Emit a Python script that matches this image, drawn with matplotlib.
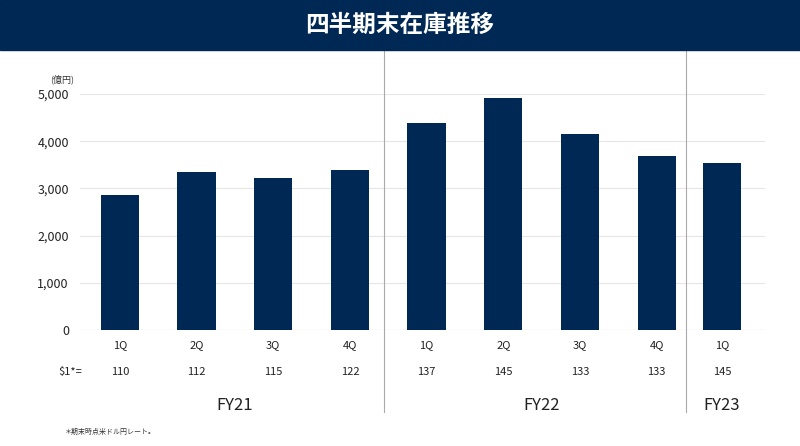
import matplotlib.pyplot as plt
from matplotlib.patches import Rectangle

plt.rcParams['font.family'] = 'Noto Sans CJK JP'

quarters = ['1Q', '2Q', '3Q', '4Q', '1Q', '2Q', '3Q', '4Q', '1Q']
inventory = [2850, 3350, 3230, 3400, 4380, 4920, 4150, 3680, 3540]
rates = ['110', '112', '115', '122', '137', '145', '133', '133', '145']
fiscal_years = ['FY21', 'FY22', 'FY23']

navy = '#002855'
pos = [0, 1, 2, 3, 4, 5, 6, 7, 7.85]
fy_pos = [1.5, 5.5, 7.85]
seps = [3.45, 7.38]

fig = plt.figure(figsize=(8, 4.46), dpi=100)
fig.patches.append(Rectangle((0, 1 - 50 / 446), 1, 50 / 446, transform=fig.transFigure,
                             color=navy, zorder=0))
fig.text(0.5, 1 - 25 / 446, '四半期末在庫推移', color='white', fontsize=17,
         fontweight='bold', ha='center', va='center')

ax = fig.add_axes([0.1, 1 - 330 / 446, 0.856, (330 - 94) / 446])
ax.bar(pos, inventory, width=0.5, color=navy, zorder=2)
ax.set_xlim(-0.52, 8.41)
ax.set_ylim(0, 5000)
ax.set_yticks(range(0, 5001, 1000))
ax.set_yticklabels([f'{v:,}' for v in range(0, 5001, 1000)], fontsize=9, color='#222222')
ax.grid(axis='y', color='#e6e6e6', lw=0.8, zorder=0)
ax.set_xticks([])
ax.tick_params(axis='y', length=0, pad=8)
for s in ax.spines.values():
    s.set_visible(False)
ax.axhline(0, color='#cccccc', lw=0.8, zorder=1)
ax.text(-0.6, 5300, '(億円)', fontsize=6.5, ha='right', va='center', color='#333333')

tr = ax.get_xaxis_transform()
for x, q, r in zip(pos, quarters, rates):
    ax.text(x, -15 / 236, q, transform=tr, ha='center', va='center', fontsize=8, color='#222222')
    ax.text(x, -42 / 236, r, transform=tr, ha='center', va='center', fontsize=8, color='#222222')
ax.text(-0.65, -42 / 236, '$1*=', transform=tr, ha='center', va='center', fontsize=8, color='#222222')
for x, fy in zip(fy_pos, fiscal_years):
    ax.text(x, -75 / 236, fy, transform=tr, ha='center', va='center', fontsize=12, color='#222222')
for s in seps:
    ax.plot([s, s], [-82 / 236, 280 / 236], transform=tr, color='#aaaaaa', lw=0.8, clip_on=False)

fig.text(65 / 800, 1 - 432 / 446, '＊期末時点米ドル円レート。', fontsize=5, va='center', color='#333333')

fig.savefig('out.png', dpi=100)
